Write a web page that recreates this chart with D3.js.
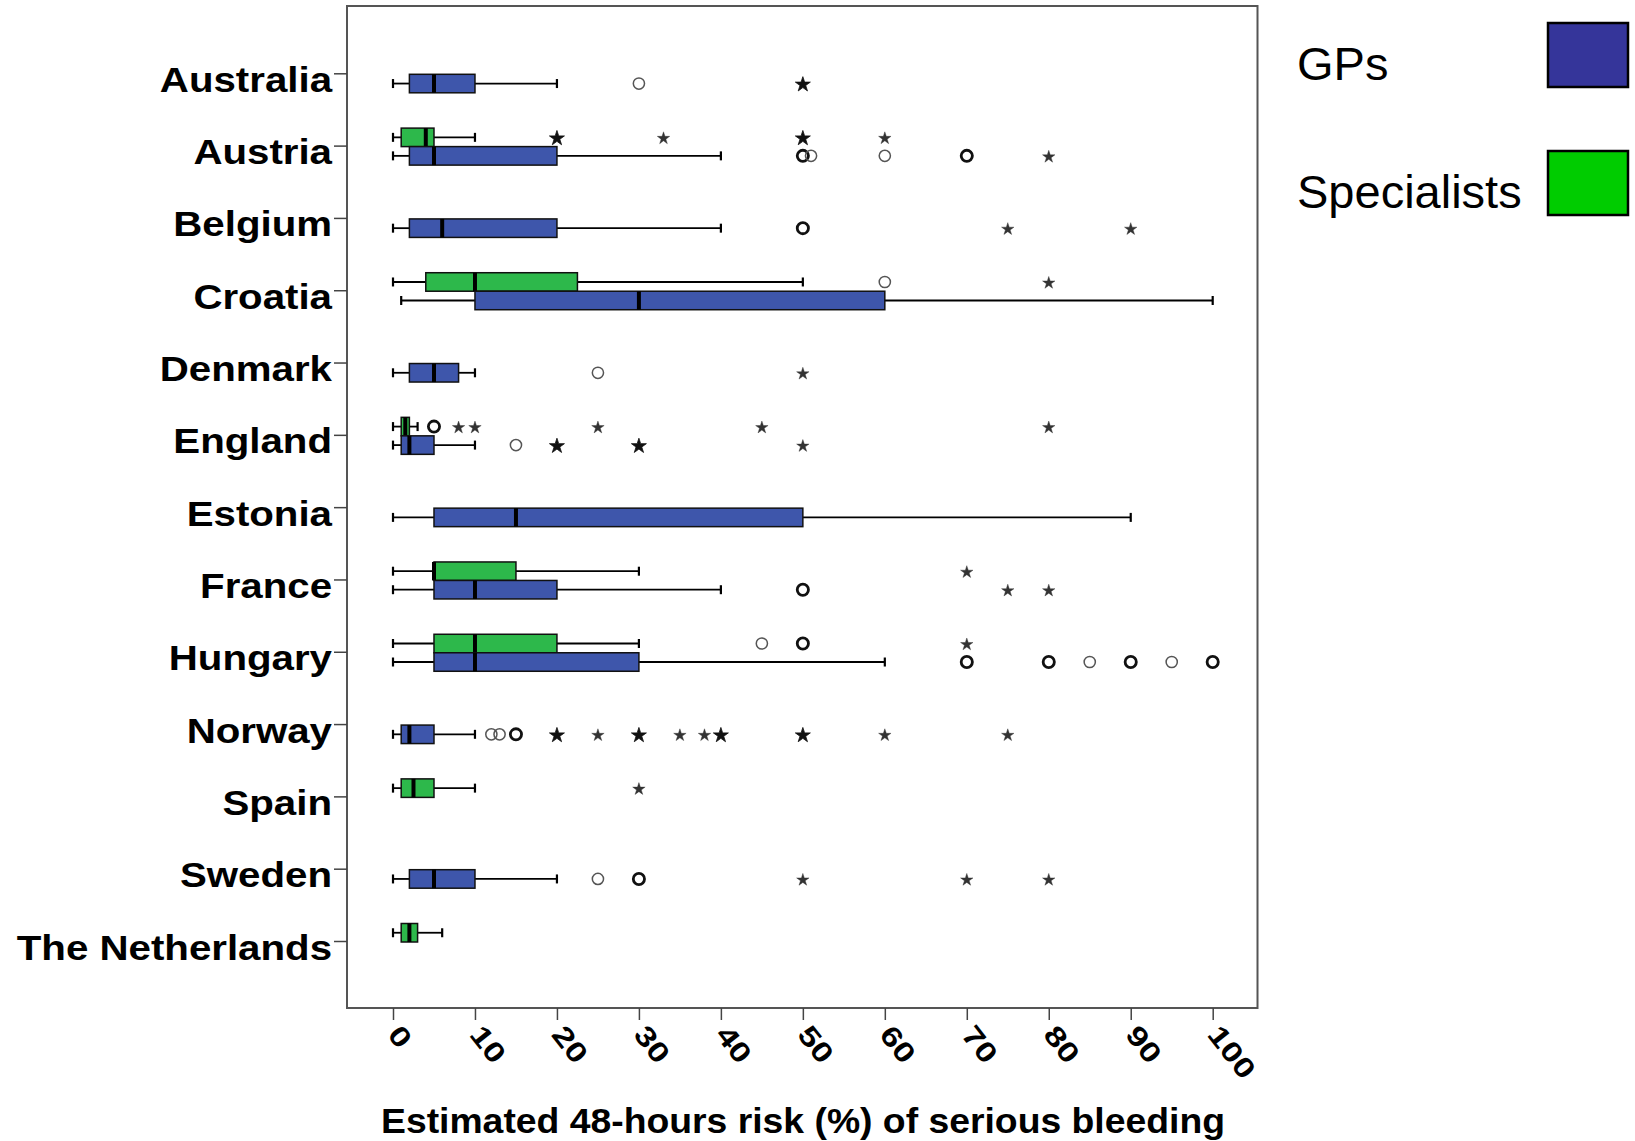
<!DOCTYPE html>
<html>
<head>
<meta charset="utf-8">
<script src="https://cdn.jsdelivr.net/npm/d3@7"></script>
<style>
  body { margin: 0; background: #fff; }
  text { font-family: "Liberation Sans", Arial, sans-serif; }
</style>
</head>
<body>
<svg id="chart" width="1635" height="1141"></svg>
<script>
// categories, top to bottom
const countries = ["Australia", "Austria", "Belgium", "Croatia", "Denmark", "England", "Estonia",
                   "France", "Hungary", "Norway", "Spain", "Sweden", "The Netherlands"];
const groups = ["GPs", "Specialists"];
const xTicks = [0, 10, 20, 30, 40, 50, 60, 70, 80, 90, 100];

// [country, lower whisker, Q1, median, Q3, upper whisker]
const gpBoxes = [
  ["Australia", 0, 2, 5, 10, 20],
  ["Austria", 0, 2, 5, 20, 40],
  ["Belgium", 0, 2, 6, 20, 40],
  ["Croatia", 1, 10, 30, 60, 100],
  ["Denmark", 0, 2, 5, 8, 10],
  ["England", 0, 1, 2, 5, 10],
  ["Estonia", 0, 5, 15, 50, 90],
  ["France", 0, 5, 10, 20, 40],
  ["Hungary", 0, 5, 10, 30, 60],
  ["Norway", 0, 1, 2, 5, 10],
  ["Sweden", 0, 2, 5, 10, 20]
];
const specBoxes = [
  ["Austria", 0, 1, 4, 5, 10],
  ["Croatia", 0, 4, 10, 22.5, 50],
  ["England", 0, 1, 1.5, 2, 3],
  ["France", 0, 5, 5, 15, 30],
  ["Hungary", 0, 5, 10, 20, 30],
  ["Spain", 0, 1, 2.5, 5, 10],
  ["The Netherlands", 0, 1, 2, 3, 6]
];

// [country, value, cases] - cases > 1 means several overlapping cases (drawn heavier)
const gpOutliers = [
  ["Australia", 30, 1],
  ["Austria", 50, 2], ["Austria", 51, 1], ["Austria", 60, 1], ["Austria", 70, 2],
  ["Belgium", 50, 2],
  ["Denmark", 25, 1],
  ["England", 15, 1],
  ["France", 50, 2],
  ["Hungary", 70, 2], ["Hungary", 80, 2], ["Hungary", 85, 1], ["Hungary", 90, 2], ["Hungary", 95, 1], ["Hungary", 100, 2],
  ["Norway", 12, 1], ["Norway", 13, 1], ["Norway", 15, 2],
  ["Sweden", 25, 1], ["Sweden", 30, 2]
];
const gpExtremes = [
  ["Australia", 50, 2],
  ["Austria", 80, 1],
  ["Belgium", 75, 1], ["Belgium", 90, 1],
  ["Denmark", 50, 1],
  ["England", 20, 2], ["England", 30, 2], ["England", 50, 1],
  ["France", 75, 1], ["France", 80, 1],
  ["Norway", 20, 2], ["Norway", 25, 1], ["Norway", 30, 2], ["Norway", 35, 1], ["Norway", 38, 1],
  ["Norway", 40, 2], ["Norway", 50, 2], ["Norway", 60, 1], ["Norway", 75, 1],
  ["Sweden", 50, 1], ["Sweden", 70, 1], ["Sweden", 80, 1]
];
const specOutliers = [
  ["Croatia", 60, 1],
  ["England", 5, 2],
  ["Hungary", 45, 1], ["Hungary", 50, 2]
];
const specExtremes = [
  ["Austria", 20, 2], ["Austria", 33, 1], ["Austria", 50, 2], ["Austria", 60, 1],
  ["Croatia", 80, 1],
  ["England", 8, 1], ["England", 10, 1], ["England", 25, 1], ["England", 45, 1], ["England", 80, 1],
  ["France", 70, 1],
  ["Hungary", 70, 1],
  ["Spain", 30, 1]
];

const svg = d3.select("#chart");
const frame = { left: 347, right: 1257.5, top: 6, bottom: 1008 };

const x = d3.scaleLinear().domain([0, 100]).range([393, 1212.7]);
const y = d3.scalePoint().domain(countries).range([73.3, 941]);
const boxH = 18.5;
const capH = 9;

// GP box hangs just below the category tick, specialist box sits on top of it
const boxTop = {
  GPs: c => y(c) + 1,
  Specialists: c => y(c) + 1 - boxH
};
const boxFill = { GPs: "#3e56ab", Specialists: "#2db84b" };
const legendFill = { GPs: "#35359a", Specialists: "#00cc00" };

// plot frame
svg.append("rect")
  .attr("x", frame.left).attr("y", frame.top)
  .attr("width", frame.right - frame.left).attr("height", frame.bottom - frame.top)
  .attr("fill", "none").attr("stroke", "#555").attr("stroke-width", 2);

// y axis (categories)
const yAxis = svg.append("g")
  .attr("transform", `translate(${frame.left},0)`)
  .call(d3.axisLeft(y).tickSize(13));
yAxis.select(".domain").remove();
yAxis.attr("font-family", null).attr("font-size", null);
yAxis.selectAll(".tick line").attr("stroke", "#444").attr("stroke-width", 1.5);
yAxis.selectAll(".tick text")
  .attr("x", -15 / 1.15).attr("y", 18).attr("dy", null)
  .attr("transform", "scale(1.15,1)")
  .style("font-size", "35px").style("font-weight", "bold").attr("fill", "#000");

// x axis
const xAxis = svg.append("g")
  .attr("transform", `translate(0,${frame.bottom})`)
  .call(d3.axisBottom(x).tickValues(xTicks).tickSize(12));
xAxis.select(".domain").remove();
xAxis.attr("font-family", null).attr("font-size", null);
xAxis.selectAll(".tick line").attr("stroke", "#444").attr("stroke-width", 1.5);
xAxis.selectAll(".tick text")
  .attr("y", 0).attr("dy", null)
  .attr("text-anchor", "start")
  .attr("transform", "translate(-7,27) rotate(52) scale(1.25,1)")
  .style("font-size", "28px").style("font-weight", "bold").attr("fill", "#000");

svg.append("text")
  .attr("x", 803).attr("y", 1133)
  .attr("text-anchor", "middle")
  .attr("textLength", 844).attr("lengthAdjust", "spacingAndGlyphs")
  .style("font-size", "35px").style("font-weight", "bold")
  .text("Estimated 48-hours risk (%) of serious bleeding");

// boxes
function drawBoxes(rows, group) {
  const g = svg.append("g").attr("class", "boxes-" + group);
  const item = g.selectAll("g").data(rows).enter().append("g");
  const mid = d => boxTop[group](d[0]) + boxH / 2;

  item.append("line")
    .attr("x1", d => x(d[1])).attr("x2", d => x(d[2]))
    .attr("y1", mid).attr("y2", mid)
    .attr("stroke", "#000").attr("stroke-width", 1.8);
  item.append("line")
    .attr("x1", d => x(d[4])).attr("x2", d => x(d[5]))
    .attr("y1", mid).attr("y2", mid)
    .attr("stroke", "#000").attr("stroke-width", 1.8);
  [1, 5].forEach(k => {
    item.append("line")
      .attr("x1", d => x(d[k])).attr("x2", d => x(d[k]))
      .attr("y1", d => mid(d) - capH / 2).attr("y2", d => mid(d) + capH / 2)
      .attr("stroke", "#000").attr("stroke-width", 2.2);
  });
  item.append("rect")
    .attr("x", d => x(d[2])).attr("width", d => x(d[4]) - x(d[2]))
    .attr("y", d => boxTop[group](d[0])).attr("height", boxH)
    .attr("fill", boxFill[group]).attr("stroke", "#111").attr("stroke-width", 1.5);
  item.append("line")
    .attr("x1", d => x(d[3])).attr("x2", d => x(d[3]))
    .attr("y1", d => boxTop[group](d[0])).attr("y2", d => boxTop[group](d[0]) + boxH)
    .attr("stroke", "#000").attr("stroke-width", 4);
}

function drawOutliers(rows, group) {
  svg.append("g").selectAll("circle").data(rows).enter().append("circle")
    .attr("cx", d => x(d[1]))
    .attr("cy", d => boxTop[group](d[0]) + boxH / 2)
    .attr("r", 5.6)
    .attr("fill", "none")
    .attr("stroke", d => d[2] > 1 ? "#111" : "#555")
    .attr("stroke-width", d => d[2] > 1 ? 2.8 : 1.5);
}

function drawExtremes(rows, group) {
  svg.append("g").selectAll("path").data(rows).enter().append("path")
    .attr("transform", d => `translate(${x(d[1])},${boxTop[group](d[0]) + boxH / 2 + 1})`)
    .attr("d", d => d3.symbol(d3.symbolStar, d[2] > 1 ? 70 : 48)())
    .attr("fill", d => d[2] > 1 ? "#111" : "#333")
    .attr("stroke", d => d[2] > 1 ? "#111" : "#333")
    .attr("stroke-width", d => d[2] > 1 ? 0.8 : 0.4);
}

drawBoxes(specBoxes, "Specialists");
drawBoxes(gpBoxes, "GPs");
drawOutliers(gpOutliers, "GPs");
drawOutliers(specOutliers, "Specialists");
drawExtremes(gpExtremes, "GPs");
drawExtremes(specExtremes, "Specialists");

// legend
const legend = svg.append("g").selectAll("g").data(groups).enter().append("g")
  .attr("transform", (d, i) => `translate(0,${i * 128})`);
legend.append("text")
  .attr("x", 1297).attr("y", 80)
  .style("font-size", "47px")
  .text(d => d);
legend.append("rect")
  .attr("x", 1548).attr("y", 23).attr("width", 80).attr("height", 64)
  .attr("fill", d => legendFill[d]).attr("stroke", "#000").attr("stroke-width", 2.5);
</script>
</body>
</html>
